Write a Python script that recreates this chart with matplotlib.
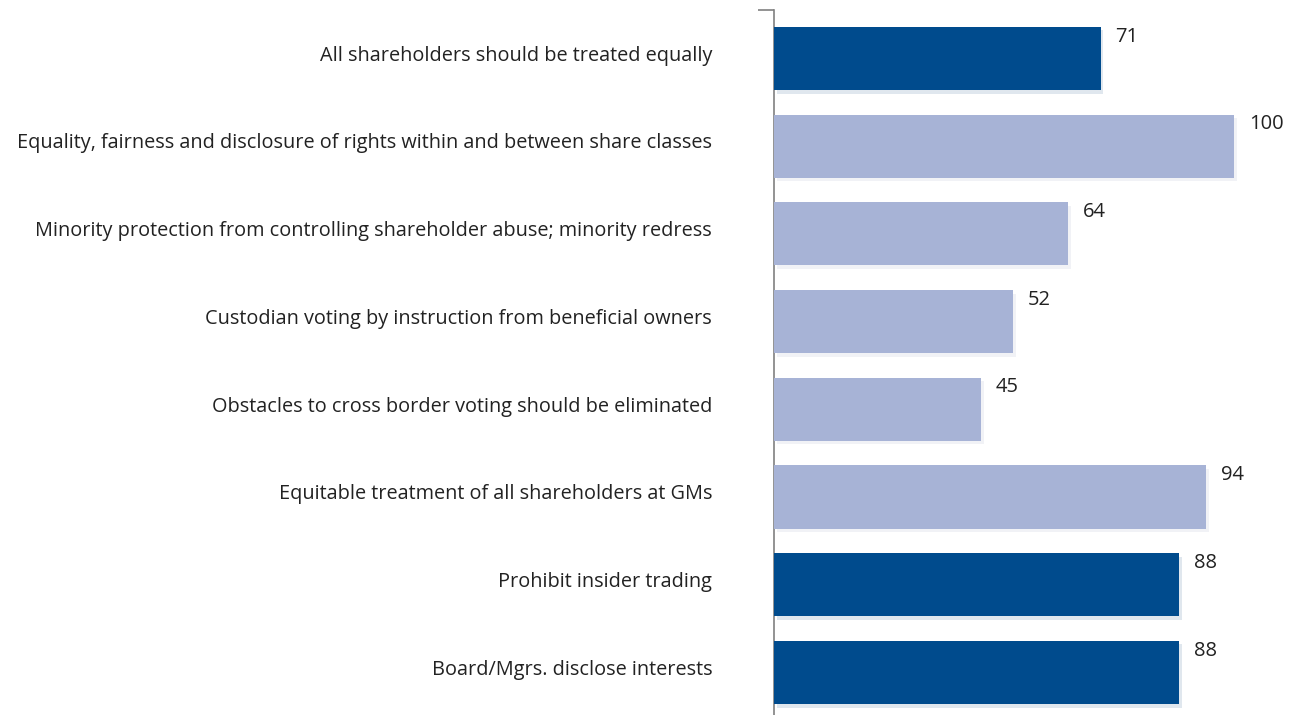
import numpy as np
import matplotlib.pyplot as plt
import matplotlib.patheffects as pe

# governance principles and their scores
categories = [
    "All shareholders should be treated equally",
    "Equality, fairness and disclosure of rights within and between share classes",
    "Minority protection from controlling shareholder abuse; minority redress",
    "Custodian voting by instruction from beneficial owners",
    "Obstacles to cross border voting should be eliminated",
    "Equitable treatment of all shareholders at GMs",
    "Prohibit insider trading",
    "Board/Mgrs. disclose interests",
]
values = [71, 100, 64, 52, 45, 94, 88, 88]
highlight = [True, False, False, False, False, False, True, True]

dark = "#004b8d"
light = "#a7b3d6"

plt.rcParams['font.family'] = ['Open Sans', 'DejaVu Sans']

fig = plt.figure(figsize=(12.89, 7.15), dpi=100)
ax = fig.add_axes([774/1289, 0.0, 1 - 774/1289, 1 - 10/715])

y = np.arange(len(categories))
colors = [dark if h else light for h in highlight]
shadow = [pe.SimplePatchShadow(offset=(2, -2.5), alpha=0.12, rho=0.85), pe.Normal()]
bars = ax.barh(y, values, height=0.72, color=colors, zorder=3, path_effects=shadow)

for yi, v in zip(y, values):
    ax.text(v + 3.2, yi - 0.25, str(v), ha='left', va='center', fontsize=14.5, color='#222222')

ax.set_ylim(len(categories) - 1 + 0.485, -0.553)
ax.set_xlim(0, (1289 - 774) / 4.6)

ax.set_yticks(y - 0.06)
ax.set_yticklabels(categories, fontsize=14.3, color='#222222')
ax.tick_params(axis='y', length=0, pad=44.5)
ax.set_yticks([-0.553], minor=True)
ax.tick_params(axis='y', which='minor', length=11.5, width=1.2, color='#808080')
ax.set_xticks([])

for s in ['top', 'right', 'bottom']:
    ax.spines[s].set_visible(False)
ax.spines['left'].set_color('#808080')
ax.spines['left'].set_linewidth(1.2)

fig.savefig("out.png", dpi=100)
